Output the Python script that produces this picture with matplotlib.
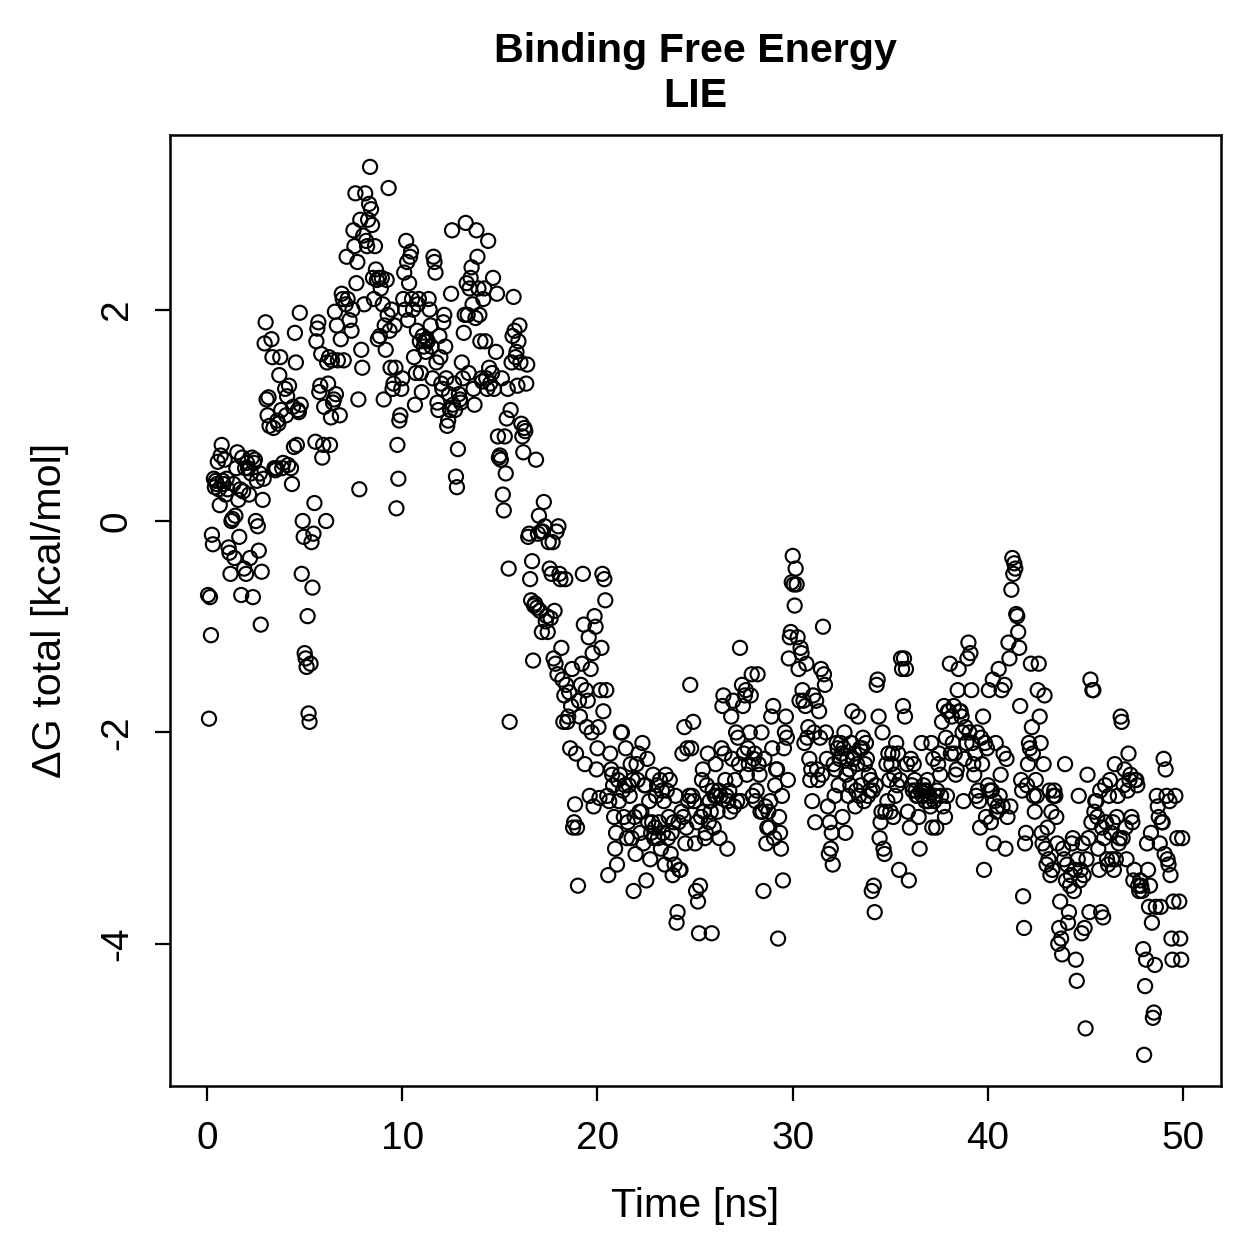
import matplotlib
matplotlib.use("Agg")
import matplotlib.pyplot as plt

# LIE binding free energy trajectory
time_ns = [
    0.05, 0.1, 0.15, 0.2, 0.25, 0.3, 0.35, 0.4, 0.45, 0.5, 0.55, 0.6, 0.65, 0.7, 0.75, 0.8, 0.85, 0.9, 0.95, 1.0,
    1.05, 1.1, 1.15, 1.2, 1.25, 1.3, 1.35, 1.4, 1.45, 1.5, 1.55, 1.6, 1.65, 1.7, 1.75, 1.8, 1.85, 1.9, 1.95, 2.0,
    2.05, 2.1, 2.15, 2.2, 2.25, 2.3, 2.35, 2.4, 2.45, 2.5, 2.55, 2.6, 2.65, 2.7, 2.75, 2.8, 2.85, 2.9, 2.95, 3.0,
    3.05, 3.1, 3.15, 3.2, 3.3, 3.35, 3.4, 3.45, 3.5, 3.55, 3.6, 3.65, 3.7, 3.75, 3.8, 3.85, 3.9, 4.0, 4.05, 4.1,
    4.15, 4.2, 4.3, 4.35, 4.4, 4.45, 4.5, 4.55, 4.6, 4.65, 4.7, 4.75, 4.8, 4.85, 4.9, 4.95, 5.0, 5.05, 5.1, 5.15,
    5.2, 5.25, 5.3, 5.35, 5.4, 5.45, 5.5, 5.55, 5.6, 5.65, 5.7, 5.75, 5.8, 5.85, 5.9, 5.95, 6.0, 6.1, 6.15, 6.2,
    6.25, 6.3, 6.35, 6.4, 6.45, 6.5, 6.55, 6.6, 6.65, 6.7, 6.8, 6.85, 6.9, 6.95, 7.0, 7.1, 7.15, 7.2, 7.3, 7.4,
    7.45, 7.5, 7.55, 7.6, 7.65, 7.7, 7.75, 7.8, 7.85, 7.9, 7.95, 8.0, 8.05, 8.1, 8.15, 8.2, 8.25, 8.3, 8.35, 8.4,
    8.45, 8.5, 8.55, 8.6, 8.65, 8.7, 8.75, 8.8, 8.85, 8.9, 8.95, 9.0, 9.05, 9.1, 9.15, 9.2, 9.25, 9.3, 9.35, 9.4,
    9.45, 9.5, 9.55, 9.6, 9.65, 9.7, 9.75, 9.8, 9.85, 9.9, 9.95, 10.0, 10.05, 10.1, 10.15, 10.2, 10.25, 10.3, 10.35, 10.4,
    10.45, 10.5, 10.55, 10.6, 10.65, 10.7, 10.75, 10.8, 10.85, 10.9, 10.95, 11.0, 11.05, 11.1, 11.15, 11.2, 11.25, 11.3, 11.35, 11.4,
    11.45, 11.5, 11.55, 11.6, 11.65, 11.7, 11.75, 11.8, 11.85, 11.9, 11.95, 12.0, 12.05, 12.1, 12.15, 12.2, 12.25, 12.3, 12.35, 12.4,
    12.45, 12.5, 12.55, 12.6, 12.65, 12.7, 12.75, 12.8, 12.85, 12.9, 12.95, 13.0, 13.05, 13.1, 13.15, 13.2, 13.25, 13.3, 13.35, 13.4,
    13.45, 13.5, 13.55, 13.6, 13.65, 13.7, 13.75, 13.8, 13.85, 13.9, 13.95, 14.0, 14.05, 14.1, 14.15, 14.2, 14.25, 14.3, 14.35, 14.4,
    14.45, 14.5, 14.6, 14.65, 14.7, 14.8, 14.85, 14.9, 14.95, 15.0, 15.05, 15.1, 15.15, 15.2, 15.25, 15.3, 15.35, 15.4, 15.45, 15.5,
    15.55, 15.6, 15.65, 15.7, 15.75, 15.8, 15.85, 15.9, 15.95, 16.0, 16.05, 16.1, 16.15, 16.2, 16.25, 16.3, 16.35, 16.4, 16.45, 16.5,
    16.55, 16.6, 16.65, 16.7, 16.75, 16.8, 16.85, 16.9, 16.95, 17.0, 17.05, 17.1, 17.15, 17.2, 17.25, 17.3, 17.35, 17.4, 17.45, 17.5,
    17.55, 17.6, 17.65, 17.7, 17.75, 17.8, 17.85, 17.9, 17.95, 18.0, 18.05, 18.1, 18.15, 18.2, 18.25, 18.3, 18.35, 18.4, 18.45, 18.5,
    18.55, 18.6, 18.65, 18.7, 18.75, 18.8, 18.85, 18.9, 18.95, 19.0, 19.05, 19.1, 19.15, 19.2, 19.25, 19.3, 19.35, 19.4, 19.45, 19.5,
    19.55, 19.6, 19.65, 19.7, 19.75, 19.8, 19.85, 19.9, 19.95, 20.0, 20.05, 20.1, 20.15, 20.2, 20.25, 20.3, 20.35, 20.4, 20.45, 20.5,
    20.55, 20.6, 20.65, 20.7, 20.75, 20.8, 20.85, 20.9, 20.95, 21.0, 21.05, 21.1, 21.15, 21.2, 21.25, 21.3, 21.35, 21.4, 21.45, 21.5,
    21.55, 21.6, 21.65, 21.7, 21.75, 21.8, 21.85, 21.9, 21.95, 22.0, 22.05, 22.1, 22.15, 22.2, 22.25, 22.3, 22.35, 22.4, 22.45, 22.5,
    22.55, 22.6, 22.65, 22.7, 22.75, 22.8, 22.85, 22.9, 22.95, 23.0, 23.05, 23.1, 23.15, 23.2, 23.25, 23.3, 23.35, 23.4, 23.45, 23.5,
    23.55, 23.6, 23.65, 23.7, 23.75, 23.8, 23.85, 23.9, 23.95, 24.0, 24.05, 24.1, 24.15, 24.2, 24.25, 24.3, 24.35, 24.4, 24.45, 24.5,
    24.55, 24.6, 24.65, 24.7, 24.75, 24.8, 24.85, 24.9, 24.95, 25.0, 25.05, 25.1, 25.15, 25.2, 25.25, 25.3, 25.35, 25.4, 25.45, 25.5,
    25.55, 25.6, 25.65, 25.7, 25.75, 25.8, 25.85, 25.9, 25.95, 26.0, 26.05, 26.1, 26.15, 26.2, 26.25, 26.3, 26.35, 26.4, 26.45, 26.5,
    26.55, 26.6, 26.65, 26.7, 26.75, 26.8, 26.85, 26.9, 26.95, 27.0, 27.05, 27.1, 27.15, 27.2, 27.25, 27.3, 27.35, 27.4, 27.45, 27.5,
    27.55, 27.6, 27.65, 27.7, 27.75, 27.8, 27.85, 27.9, 27.95, 28.0, 28.05, 28.1, 28.15, 28.2, 28.25, 28.3, 28.35, 28.4, 28.45, 28.5,
    28.55, 28.6, 28.65, 28.7, 28.75, 28.8, 28.85, 28.9, 28.95, 29.0, 29.05, 29.1, 29.15, 29.2, 29.25, 29.3, 29.35, 29.4, 29.45, 29.5,
    29.55, 29.6, 29.65, 29.7, 29.75, 29.8, 29.85, 29.9, 29.95, 30.0, 30.05, 30.1, 30.15, 30.2, 30.25, 30.3, 30.35, 30.4, 30.45, 30.5,
    30.55, 30.6, 30.65, 30.7, 30.75, 30.8, 30.85, 30.9, 30.95, 31.0, 31.05, 31.1, 31.15, 31.2, 31.25, 31.3, 31.35, 31.4, 31.45, 31.5,
    31.55, 31.6, 31.65, 31.7, 31.75, 31.8, 31.85, 31.9, 31.95, 32.0, 32.05, 32.1, 32.15, 32.2, 32.25, 32.3, 32.35, 32.4, 32.45, 32.5,
    32.55, 32.6, 32.65, 32.7, 32.75, 32.8, 32.85, 32.9, 32.95, 33.0, 33.05, 33.1, 33.15, 33.2, 33.25, 33.3, 33.35, 33.4, 33.45, 33.5,
    33.55, 33.6, 33.65, 33.7, 33.75, 33.8, 33.85, 33.9, 33.95, 34.0, 34.05, 34.1, 34.15, 34.2, 34.25, 34.3, 34.35, 34.4, 34.45, 34.5,
    34.55, 34.6, 34.65, 34.7, 34.75, 34.8, 34.85, 34.9, 34.95, 35.0, 35.05, 35.1, 35.15, 35.2, 35.25, 35.3, 35.35, 35.4, 35.45, 35.5,
    35.55, 35.6, 35.65, 35.7, 35.75, 35.8, 35.85, 35.9, 35.95, 36.0, 36.05, 36.1, 36.15, 36.2, 36.25, 36.3, 36.35, 36.4, 36.45, 36.5,
    36.55, 36.6, 36.65, 36.7, 36.75, 36.8, 36.85, 36.9, 36.95, 37.0, 37.05, 37.1, 37.15, 37.2, 37.25, 37.3, 37.35, 37.4, 37.45, 37.5,
    37.55, 37.6, 37.65, 37.7, 37.75, 37.8, 37.85, 37.9, 37.95, 38.0, 38.05, 38.1, 38.15, 38.2, 38.25, 38.3, 38.35, 38.4, 38.45, 38.5,
    38.55, 38.6, 38.65, 38.7, 38.75, 38.8, 38.85, 38.9, 38.95, 39.0, 39.05, 39.1, 39.15, 39.2, 39.25, 39.3, 39.35, 39.4, 39.45, 39.5,
    39.55, 39.6, 39.65, 39.7, 39.75, 39.8, 39.85, 39.9, 39.95, 40.0, 40.05, 40.1, 40.15, 40.2, 40.25, 40.3, 40.35, 40.4, 40.45, 40.5,
    40.55, 40.6, 40.65, 40.7, 40.75, 40.8, 40.85, 40.9, 40.95, 41.0, 41.05, 41.1, 41.15, 41.2, 41.25, 41.3, 41.35, 41.4, 41.45, 41.5,
    41.55, 41.6, 41.65, 41.7, 41.75, 41.8, 41.85, 41.9, 41.95, 42.0, 42.05, 42.1, 42.15, 42.2, 42.25, 42.3, 42.35, 42.4, 42.45, 42.5,
    42.55, 42.6, 42.65, 42.7, 42.75, 42.8, 42.85, 42.9, 42.95, 43.0, 43.05, 43.1, 43.15, 43.2, 43.25, 43.3, 43.35, 43.4, 43.45, 43.5,
    43.55, 43.6, 43.65, 43.7, 43.75, 43.8, 43.85, 43.9, 43.95, 44.0, 44.05, 44.1, 44.15, 44.2, 44.25, 44.3, 44.35, 44.4, 44.45, 44.5,
    44.55, 44.6, 44.65, 44.7, 44.75, 44.8, 44.85, 44.9, 44.95, 45.0, 45.05, 45.1, 45.15, 45.2, 45.25, 45.3, 45.35, 45.4, 45.45, 45.5,
    45.55, 45.6, 45.65, 45.7, 45.75, 45.8, 45.85, 45.9, 45.95, 46.0, 46.05, 46.1, 46.15, 46.2, 46.25, 46.3, 46.35, 46.4, 46.45, 46.5,
    46.55, 46.6, 46.65, 46.7, 46.75, 46.8, 46.85, 46.9, 46.95, 47.0, 47.05, 47.1, 47.15, 47.2, 47.25, 47.3, 47.35, 47.4, 47.45, 47.5,
    47.55, 47.6, 47.65, 47.7, 47.75, 47.8, 47.85, 47.9, 47.95, 48.0, 48.05, 48.1, 48.15, 48.2, 48.25, 48.3, 48.35, 48.4, 48.45, 48.5,
    48.55, 48.6, 48.65, 48.7, 48.75, 48.8, 48.85, 48.9, 48.95, 49.0, 49.05, 49.1, 49.15, 49.2, 49.25, 49.3, 49.35, 49.4, 49.45, 49.5,
    49.6, 49.7, 49.8, 49.85, 49.9, 49.95,
]

dg_total = [
    -0.7, -1.87, -0.72, -1.08, -0.13, -0.22, 0.4, 0.32, 0.38, 0.35, 0.56, 0.3, 0.15, 0.62, 0.72, 0.38, 0.35, 0.58, 0.25, 0.4,
    0.3, -0.25, -0.3, -0.5, 0.0, 0.02, 0.35, -0.35, 0.05, 0.5, 0.65, 0.2, -0.15, 0.3, -0.7, 0.6, 0.28, -0.45, 0.5, -0.5,
    0.55, 0.5, 0.25, -0.35, 0.45, 0.6, -0.72, 0.55, 0.58, 0.0, 0.38, -0.05, -0.28, 0.45, -0.98, -0.48, 0.2, 0.4, 1.68, 1.88,
    1.15, 1.0, 1.17, 0.9, 1.72, 1.55, 0.88, 0.5, 0.48, 0.5, 0.95, 0.92, 1.38, 1.55, 1.05, 0.5, 0.55, 1.25, 1.0, 1.18,
    0.53, 1.28, 0.5, 0.35, 1.08, 0.7, 1.78, 1.5, 0.72, 1.05, 1.03, 1.97, 1.1, -0.5, 0.0, -0.15, -1.25, -1.3, -1.38, -0.9,
    -1.82, -1.9, -1.35, -0.2, -0.63, -0.12, 0.17, 0.75, 1.7, 1.82, 1.88, 1.22, 1.28, 1.58, 0.6, 0.72, 1.08, 0.0, 1.5, 1.3,
    1.55, 0.72, 0.98, 1.52, 1.12, 1.15, 1.98, 1.2, 1.85, 1.52, 1.0, 1.72, 2.15, 2.1, 1.52, 2.05, 2.5, 2.1, 1.9, 1.8,
    2.0, 2.75, 2.6, 3.1, 2.25, 2.45, 1.15, 0.3, 2.85, 1.62, 1.45, 2.7, 2.05, 3.1, 2.65, 2.6, 2.85, 3.0, 3.35, 2.95,
    2.8, 2.3, 2.1, 2.6, 2.38, 2.28, 1.72, 2.3, 1.75, 2.2, 2.3, 2.05, 1.15, 1.85, 1.62, 2.28, 1.95, 3.15, 1.8, 1.45,
    2.0, 1.25, 1.3, 1.85, 1.45, 0.12, 0.72, 0.4, 0.95, 1.0, 1.25, 1.35, 2.1, 2.35, 2.0, 2.65, 2.45, 1.9, 2.25, 2.5,
    2.55, 2.1, 2.0, 1.55, 1.1, 1.4, 1.8, 2.05, 2.1, 1.7, 1.4, 1.22, 1.75, 1.65, 1.7, 1.6, 1.72, 1.7, 2.1, 2.0,
    1.85, 1.65, 1.35, 2.5, 2.45, 2.35, 1.5, 1.12, 1.05, 1.75, 1.55, 1.3, 1.25, 1.88, 1.95, 1.65, 1.35, 0.9, 0.95, 1.2,
    1.05, 2.15, 2.75, 1.1, 1.3, 1.05, 0.42, 0.32, 0.68, 1.2, 1.15, 1.12, 1.5, 1.35, 1.78, 1.95, 2.82, 2.25, 1.95, 1.4,
    2.2, 2.3, 2.4, 2.05, 1.25, 1.1, 1.92, 2.75, 2.5, 2.2, 1.95, 1.7, 1.35, 1.32, 2.1, 2.2, 1.7, 1.35, 1.25, 2.65,
    1.45, 1.3, 1.4, 2.3, 1.25, 1.6, 2.15, 0.8, 0.6, 0.62, 0.58, 1.35, 0.25, 0.1, 0.8, 0.45, 0.97, 1.25, -0.45, -1.9,
    1.05, 1.5, 1.75, 2.12, 1.8, 1.55, 1.6, 1.28, 1.7, 1.85, 1.5, 0.92, 0.8, 0.65, 0.88, 0.85, 1.3, 1.48, -0.15, -0.12,
    -0.55, -0.75, -0.38, -1.32, -0.8, -0.78, 0.58, -0.82, -0.12, 0.05, -0.85, -0.1, -1.05, -0.1, 0.18, -0.05, -0.95, -0.9, -1.05, -0.2,
    -0.45, -0.92, -0.5, -0.2, -1.3, -0.85, -1.35, -0.1, -1.45, -0.05, -0.5, -0.55, -1.2, -1.5, -1.9, -1.65, -0.55, -1.55, -1.9, -1.85,
    -1.62, -2.15, -1.75, -1.4, -2.9, -2.85, -2.68, -2.2, -2.9, -3.45, -1.7, -1.85, -1.55, -1.35, -0.5, -0.98, -2.3, -1.6, -1.95, -1.7,
    -1.1, -2.6, -1.4, -2.0, -1.25, -2.7, -0.9, -1.0, -2.35, -2.15, -1.95, -2.62, -1.6, -1.2, -0.5, -1.8, -0.55, -0.75, -1.6, -2.6,
    -3.35, -2.65, -2.2, -2.35, -2.4, -2.5, -2.8, -3.1, -2.95, -3.25, -2.45, -2.65, -2.4, -2.0, -2.0, -2.55, -2.8, -2.5, -2.15, -3.0,
    -2.85, -2.5, -2.6, -2.3, -3.0, -2.45, -3.5, -2.8, -3.15, -2.3, -2.45, -2.2, -2.75, -2.95, -2.75, -2.1, -3.05, -2.5, -2.5, -3.4,
    -2.25, -2.85, -2.65, -3.2, -2.95, -2.85, -2.4, -3.0, -2.9, -2.6, -2.5, -3.0, -2.85, -2.45, -3.1, -2.55, -2.95, -2.65, -3.25, -2.4,
    -2.55, -3.0, -2.8, -2.45, -3.15, -2.95, -3.35, -2.85, -3.25, -2.6, -3.8, -3.7, -2.85, -3.3, -3.3, -2.75, -2.2, -2.8, -1.95, -3.05,
    -2.9, -2.15, -2.65, -2.6, -1.55, -2.15, -2.6, -1.9, -2.65, -3.05, -3.5, -2.85, -3.6, -3.9, -3.45, -2.8, -2.45, -2.35, -2.75, -3.0,
    -2.95, -2.5, -2.2, -2.85, -2.65, -2.75, -3.9, -2.55, -2.9, -2.6, -2.3, -2.6, -2.75, -2.55, -3.0, -2.6, -2.15, -1.75, -1.65, -2.2,
    -2.45, -2.6, -3.1, -2.65, -2.55, -2.75, -1.85, -2.25, -1.7, -2.7, -2.45, -2.0, -2.65, -2.05, -2.3, -1.2, -2.65, -1.55, -1.75, -2.2,
    -1.65, -1.6, -2.4, -2.15, -2.3, -2.0, -1.65, -1.45, -2.6, -2.25, -2.2, -2.65, -2.55, -1.45, -2.3, -2.4, -2.75, -2.0, -2.75, -3.5,
    -2.25, -2.7, -3.05, -2.9, -2.75, -2.9, -2.65, -1.85, -2.15, -1.75, -3.0, -2.5, -2.35, -2.35, -3.95, -2.8, -2.95, -3.1, -2.6, -3.4,
    -2.15, -2.0, -1.85, -2.05, -2.45, -1.3, -1.1, -1.05, -0.58, -0.33, -0.6, -0.8, -0.45, -0.6, -1.1, -1.4, -1.7, -1.2, -1.25, -1.6,
    -1.7, -2.1, -1.75, -1.35, -2.05, -1.95, -2.25, -2.45, -2.35, -2.65, -1.65, -2.0, -2.85, -1.7, -2.35, -2.45, -1.8, -2.05, -1.4, -2.4,
    -1.0, -1.45, -1.55, -2.0, -2.25, -2.7, -3.15, -2.85, -3.1, -2.95, -3.25, -2.3, -2.6, -2.35, -2.1, -2.15, -2.5, -2.25, -2.1, -2.2,
    -2.8, -2.15, -2.0, -2.95, -2.4, -2.25, -2.6, -2.35, -2.5, -2.1, -1.8, -2.25, -2.2, -2.7, -2.55, -2.3, -1.85, -2.6, -2.15, -2.5,
    -2.15, -2.05, -2.65, -2.3, -2.1, -2.25, -2.6, -2.4, -2.55, -2.45, -3.5, -2.55, -3.45, -3.7, -2.5, -1.55, -1.5, -1.85, -3.0, -2.85,
    -2.75, -2.0, -3.1, -3.15, -2.75, -2.3, -2.65, -2.2, -2.45, -2.75, -2.3, -2.2, -2.8, -2.4, -2.6, -2.1, -2.5, -2.2, -3.3, -2.45,
    -1.3, -1.4, -1.75, -1.3, -1.85, -1.4, -2.3, -2.75, -3.4, -2.9, -2.25, -2.5, -2.55, -2.3, -2.45, -2.55, -2.6, -2.6, -2.8, -3.1,
    -2.55, -2.1, -2.6, -2.5, -2.55, -2.65, -2.55, -2.45, -2.65, -2.6, -2.7, -2.1, -2.9, -2.25, -2.65, -2.6, -2.9, -2.55, -2.3, -2.2,
    -2.4, -2.6, -1.9, -2.7, -1.75, -2.8, -2.05, -2.6, -1.8, -1.8, -1.35, -2.2, -1.85, -2.1, -1.75, -2.2, -2.4, -2.35, -1.6, -1.4,
    -1.8, -1.8, -1.85, -2.0, -2.65, -2.25, -1.95, -2.1, -1.3, -1.15, -2.0, -1.25, -1.6, -2.1, -2.3, -2.4, -2.2, -2.6, -2.0, -2.55,
    -2.65, -2.9, -2.05, -2.3, -1.85, -3.3, -2.1, -2.8, -2.15, -2.5, -1.6, -2.55, -2.85, -2.55, -1.5, -3.05, -2.65, -2.1, -2.75, -2.7,
    -1.4, -2.6, -2.4, -1.6, -2.7, -2.2, -1.55, -3.1, -2.25, -2.8, -1.15, -1.3, -2.7, -0.65, -0.35, -0.5, -0.4, -0.45, -0.88, -0.9,
    -1.05, -1.2, -1.75, -2.45, -2.55, -3.55, -3.85, -3.05, -2.95, -2.5, -2.3, -2.1, -2.15, -1.35, -1.95, -2.2, -2.6, -2.75, -2.45, -2.6,
    -1.6, -1.35, -1.85, -2.1, -2.95, -3.05, -2.3, -1.65, -3.1, -3.25, -2.9, -3.2, -2.55, -3.35, -2.75, -3.3, -2.6, -2.55, -2.6, -2.8,
    -3.05, -4.0, -3.85, -3.6, -3.95, -4.1, -3.1, -3.2, -2.3, -3.4, -3.25, -3.8, -3.7, -3.45, -3.35, -3.05, -3.0, -3.5, -3.3, -4.15,
    -4.35, -3.2, -2.6, -3.4, -3.3, -3.9, -3.05, -3.35, -3.85, -4.8, -3.2, -2.4, -3.0, -3.7, -1.5, -2.85, -1.6, -1.6, -2.75, -2.65,
    -2.65, -2.8, -3.1, -3.3, -2.55, -3.7, -2.9, -3.75, -3.0, -2.5, -2.85, -3.2, -3.25, -2.6, -2.45, -2.95, -3.2, -2.85, -3.3, -2.3,
    -3.2, -2.8, -2.6, -3.05, -3.0, -1.85, -1.9, -3.0, -2.5, -2.35, -2.9, -3.2, -2.55, -2.2, -2.45, -2.4, -2.8, -2.85, -3.4, -3.3,
    -2.45, -2.45, -2.5, -3.45, -3.5, -3.4, -3.45, -3.5, -4.05, -5.05, -4.4, -4.15, -3.05, -3.3, -3.65, -3.45, -2.95, -3.8, -4.7, -4.65,
    -4.2, -3.65, -2.6, -2.7, -2.8, -3.05, -3.65, -2.85, -2.85, -2.25, -3.15, -2.35, -2.6, -3.2, -3.25, -2.65, -3.35, -3.95, -4.15, -3.6,
    -2.6, -3.0, -3.6, -3.95, -4.15, -3.0,
]

x_ticks = [0, 10, 20, 30, 40, 50]
y_ticks = [-4, -2, 0, 2]

plt.rcParams['font.family'] = ['Liberation Sans', 'DejaVu Sans']

fig = plt.figure(figsize=(1259 / 180, 1259 / 180), dpi=180)
ax = fig.add_axes([0.135, 0.1374, 0.835, 0.7554])

ax.scatter(time_ns, dg_total, s=32, facecolors='none', edgecolors='black', linewidths=0.85)

ax.set_xlim(-1.9, 51.95)
ax.set_ylim(-5.345, 3.652)
ax.set_xticks(x_ticks)
ax.set_yticks(y_ticks)
ax.set_yticklabels([str(v) for v in y_ticks], rotation=90, va='center')
ax.tick_params(axis='both', direction='out', length=6, width=0.9, labelsize=15.5, pad=8)
for sp in ax.spines.values():
    sp.set_linewidth(1.0)

ax.set_xlabel('Time [ns]', fontsize=16.5, labelpad=12)
ax.set_ylabel('ΔG total [kcal/mol]', fontsize=16.5, labelpad=12)
ax.set_title('Binding Free Energy\nLIE', fontsize=16.5, fontweight='bold', pad=11, linespacing=1.25)

fig.savefig('out.png', dpi=180)
